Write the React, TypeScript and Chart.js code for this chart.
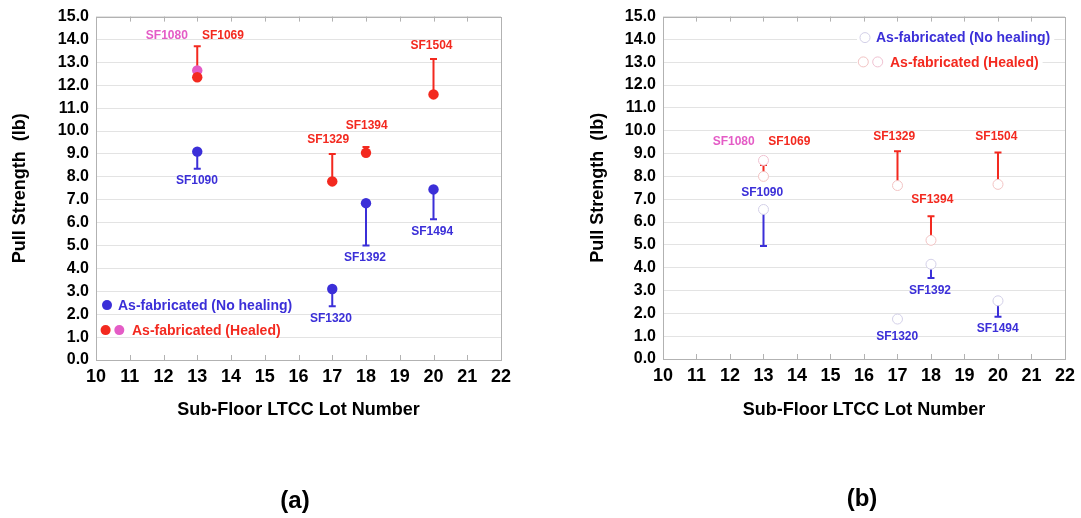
import React, { useEffect, useRef } from "react";
import { Chart, registerables } from "chart.js";

Chart.register(...registerables);

// ---- data ----
const lots = [13, 17, 18, 20];

// panel (a): filled markers
const aNoHealing = [9.1, 3.1, 6.85, 7.45];
const aNoHealingLow = [8.35, 2.35, 5.0, 6.15];
const aHealed = [12.35, 7.8, 9.05, 11.6];
const aHealedHigh = [13.7, 9.0, 9.3, 13.15];
const aSF1080Lot = [13];
const aSF1080 = [12.65];

// panel (b): open markers
const bNoHealing = [6.55, 1.75, 4.15, 2.55];
const bNoHealingLow = [4.95, null, 3.55, 1.85];
const bHealed = [8.0, 7.6, 5.2, 7.65];
const bHealedHigh = [8.5, 9.1, 6.25, 9.05];
const bSF1080Lot = [13];
const bSF1080 = [8.7];

const xTicksMin = 10;
const xTicksMax = 22;
const yTicksMin = 0;
const yTicksMax = 15;

// lot labels: [text, x, y, colour key]
const aLotLabels: [string, number, number, string][] = [
  ["SF1080", 12.1, 14.17, "pink"],
  ["SF1069", 13.76, 14.17, "red"],
  ["SF1504", 19.94, 13.75, "red"],
  ["SF1394", 18.02, 10.25, "red"],
  ["SF1329", 16.88, 9.62, "red"],
  ["SF1090", 12.99, 7.84, "blue"],
  ["SF1494", 19.96, 5.6, "blue"],
  ["SF1392", 17.97, 4.47, "blue"],
  ["SF1320", 16.96, 1.8, "blue"],
];
const bLotLabels: [string, number, number, string][] = [
  ["SF1080", 12.11, 9.53, "pink"],
  ["SF1069", 13.77, 9.53, "red"],
  ["SF1329", 16.9, 9.74, "red"],
  ["SF1504", 19.95, 9.74, "red"],
  ["SF1090", 12.96, 7.28, "blue"],
  ["SF1394", 18.04, 6.96, "red"],
  ["SF1392", 17.97, 2.98, "blue"],
  ["SF1494", 19.99, 1.32, "blue"],
  ["SF1320", 16.99, 0.96, "blue"],
];

const legendNoHealing = "As-fabricated (No healing)";
const legendHealed = "As-fabricated (Healed)";
const xTitle = "Sub-Floor LTCC Lot Number";
const yTitle = "Pull Strength  (lb)";

// ---- styling ----
const FONT = "'Liberation Sans', Arial, Helvetica, sans-serif";
const COLORS: Record<string, string> = {
  blue: "#3b2fd8",
  red: "#f3291f",
  pink: "#e45cc6",
};
const OPEN_BLUE = "#d3d0e8";
const OPEN_RED = "#f2c3c3";
const OPEN_PINK = "#f0c2d2";
const GRID = "#e3e3e3";
const FRAME = "#b2b2b2";

type ErrBar = { x: number; from: number; to: number | null; color: string };

type PanelSpec = {
  points: any[];
  errBars: ErrBar[];
  labels: [string, number, number, string][];
  legend: {
    dx: number;
    dy1: number;
    dy2: number;
    filled: boolean;
    whiteBox: boolean;
  };
  yWidth: number;
  xHeight: number;
  padTop: number;
  padRight: number;
  yTitlePad: number;
};

function toXY(xs: number[], ys: number[]) {
  return xs.map((x, i) => ({ x, y: ys[i] }));
}

function bars(xs: number[], from: number[], to: (number | null)[], color: string): ErrBar[] {
  return xs.map((x, i) => ({ x, from: from[i], to: to[i], color }));
}

function makeDecor(spec: PanelSpec) {
  return {
    id: "panelDecor",
    beforeDatasetsDraw(chart: any) {
      const { ctx, chartArea } = chart;
      const xs = chart.scales.x;
      const ys = chart.scales.y;
      ctx.save();
      // frame
      ctx.strokeStyle = FRAME;
      ctx.lineWidth = 1;
      ctx.strokeRect(
        Math.round(chartArea.left) + 0.5,
        Math.round(chartArea.top) + 0.5,
        Math.round(chartArea.right - chartArea.left),
        Math.round(chartArea.bottom - chartArea.top)
      );
      // inward tick marks on top and bottom edges
      for (let v = xTicksMin + 1; v < xTicksMax; v++) {
        const px = Math.round(xs.getPixelForValue(v)) + 0.5;
        ctx.beginPath();
        ctx.moveTo(px, chartArea.bottom);
        ctx.lineTo(px, chartArea.bottom - 5);
        ctx.moveTo(px, chartArea.top);
        ctx.lineTo(px, chartArea.top + 5);
        ctx.stroke();
      }
      // one-sided error bars
      ctx.lineWidth = 2;
      for (const b of spec.errBars) {
        if (b.to === null || b.to === undefined) continue;
        const px = xs.getPixelForValue(b.x);
        const p0 = ys.getPixelForValue(b.from);
        const p1 = ys.getPixelForValue(b.to);
        ctx.strokeStyle = b.color;
        ctx.beginPath();
        ctx.moveTo(px, p0);
        ctx.lineTo(px, p1);
        ctx.moveTo(px - 3.5, p1);
        ctx.lineTo(px + 3.5, p1);
        ctx.stroke();
      }
      ctx.restore();
    },
    afterDatasetsDraw(chart: any) {
      const { ctx, chartArea } = chart;
      const xs = chart.scales.x;
      const ys = chart.scales.y;
      ctx.save();
      ctx.textAlign = "center";
      ctx.textBaseline = "middle";
      ctx.font = `bold 12px ${FONT}`;
      for (const [t, x, y, c] of spec.labels) {
        ctx.fillStyle = COLORS[c];
        ctx.fillText(t, xs.getPixelForValue(x), ys.getPixelForValue(y));
      }
      // legend
      const L = spec.legend;
      const mx = chartArea.left + L.dx;
      const y1 = chartArea.top + L.dy1;
      const y2 = chartArea.top + L.dy2;
      ctx.font = `bold 14px ${FONT}`;
      ctx.textAlign = "left";
      const drawMarker = (x: number, y: number, fill: string, stroke: string) => {
        ctx.beginPath();
        ctx.arc(x, y, 5, 0, Math.PI * 2);
        ctx.fillStyle = fill;
        ctx.fill();
        if (!L.filled) {
          ctx.lineWidth = 1;
          ctx.strokeStyle = stroke;
          ctx.stroke();
        }
      };
      const rows: [number, number, string, string][] = [
        [y1, mx + 11, legendNoHealing, COLORS.blue],
        [y2, mx + 25, legendHealed, COLORS.red],
      ];
      if (L.whiteBox) {
        for (const [yy, tx, text] of rows) {
          const w = ctx.measureText(text).width;
          ctx.fillStyle = "#ffffff";
          ctx.fillRect(mx - 8, yy - 9, tx - mx + w + 12, 18);
        }
      }
      if (L.filled) {
        drawMarker(mx, y1, COLORS.blue, COLORS.blue);
        drawMarker(mx - 1.4, y2, COLORS.red, COLORS.red);
        drawMarker(mx + 12.3, y2, COLORS.pink, COLORS.pink);
      } else {
        drawMarker(mx, y1, "#ffffff", OPEN_BLUE);
        drawMarker(mx - 1.7, y2, "#ffffff", OPEN_RED);
        drawMarker(mx + 12.7, y2, "#ffffff", OPEN_PINK);
      }
      for (const [yy, tx, text, col] of rows) {
        ctx.fillStyle = col;
        ctx.fillText(text, tx, yy + 1);
      }
      ctx.restore();
    },
  };
}

function buildConfig(spec: PanelSpec): any {
  return {
    type: "scatter",
    data: { datasets: spec.points },
    options: {
      responsive: false,
      animation: false,
      events: [],
      layout: {
        padding: { top: spec.padTop, right: spec.padRight, left: 0, bottom: 0 },
      },
      plugins: {
        legend: { display: false },
        tooltip: { enabled: false },
      },
      scales: {
        x: {
          type: "linear",
          min: xTicksMin,
          max: xTicksMax,
          afterFit: (s: any) => {
            s.height = spec.xHeight;
          },
          ticks: {
            stepSize: 1,
            color: "#000000",
            padding: 6,
            font: { family: FONT, size: 18, weight: "bold" },
          },
          grid: { display: false, drawTicks: false },
          border: { display: false },
          title: {
            display: true,
            text: xTitle,
            color: "#000000",
            font: { family: FONT, size: 18, weight: "bold" },
            padding: { top: 0, bottom: 97 },
          },
        },
        y: {
          type: "linear",
          min: yTicksMin,
          max: yTicksMax,
          afterFit: (s: any) => {
            s.width = spec.yWidth;
          },
          ticks: {
            stepSize: 1,
            color: "#000000",
            padding: 7,
            font: { family: FONT, size: 16, weight: "bold" },
            callback: (v: any) => Number(v).toFixed(1),
          },
          grid: { color: GRID, lineWidth: 1, drawTicks: false },
          border: { display: false },
          title: {
            display: true,
            text: yTitle,
            color: "#000000",
            font: { family: FONT, size: 18, weight: "bold" },
            padding: { top: spec.yTitlePad, bottom: 0 },
          },
        },
      },
    },
    plugins: [makeDecor(spec)],
  };
}

function filledSet(data: any[], color: string) {
  return {
    data,
    pointRadius: 5.2,
    pointBackgroundColor: color,
    pointBorderColor: color,
    pointBorderWidth: 0,
    showLine: false,
  };
}

function openSet(data: any[], stroke: string) {
  return {
    data,
    pointRadius: 5,
    pointBackgroundColor: "#ffffff",
    pointBorderColor: stroke,
    pointBorderWidth: 1,
    showLine: false,
  };
}

const specA: PanelSpec = {
  points: [
    filledSet(toXY(lots, aHealed), COLORS.red),
    filledSet(toXY(aSF1080Lot, aSF1080), COLORS.pink),
    filledSet(toXY(lots, aNoHealing), COLORS.blue),
  ],
  errBars: [
    ...bars(lots, aNoHealing, aNoHealingLow, COLORS.blue),
    ...bars(lots, aHealed, aHealedHigh, COLORS.red),
  ],
  labels: aLotLabels,
  legend: { dx: 11, dy1: 288.5, dy2: 313.5, filled: true, whiteBox: false },
  yWidth: 96,
  xHeight: 158,
  padTop: 13,
  padRight: 39,
  yTitlePad: 9,
};

const specB: PanelSpec = {
  points: [
    openSet(toXY(lots, bHealed), OPEN_RED),
    openSet(toXY(bSF1080Lot, bSF1080), OPEN_PINK),
    openSet(toXY(lots, bNoHealing), OPEN_BLUE),
  ],
  errBars: [
    ...bars(lots, bNoHealing, bNoHealingLow, COLORS.blue),
    ...bars(lots, bHealed, bHealedHigh, COLORS.red),
  ],
  labels: bLotLabels,
  legend: { dx: 202, dy1: 21, dy2: 45.3, filled: false, whiteBox: true },
  yWidth: 122,
  xHeight: 159,
  padTop: 14,
  padRight: 14,
  yTitlePad: 46,
};

function Panel({ spec, left }: { spec: PanelSpec; left: number }) {
  const ref = useRef<HTMLCanvasElement | null>(null);
  useEffect(() => {
    if (!ref.current) return;
    const chart = new Chart(ref.current, buildConfig(spec));
    return () => chart.destroy();
  }, [spec]);
  return (
    <canvas
      ref={ref}
      width={540}
      height={518}
      style={{ position: "absolute", left, top: 0, width: 540, height: 518 }}
    />
  );
}

const captionStyle = (cx: number, cy: number): React.CSSProperties => ({
  position: "absolute",
  left: cx - 50,
  top: cy - 14,
  width: 100,
  height: 28,
  lineHeight: "28px",
  textAlign: "center",
  fontFamily: FONT,
  fontWeight: "bold",
  fontSize: 24,
  color: "#000000",
});

export default function App() {
  return (
    <div
      style={{
        position: "fixed",
        left: 0,
        top: 0,
        width: 1081,
        height: 518,
        background: "#ffffff",
        overflow: "hidden",
      }}
    >
      <Panel spec={specA} left={0} />
      <Panel spec={specB} left={541} />
      <div style={captionStyle(295, 500)}>(a)</div>
      <div style={captionStyle(862, 498)}>(b)</div>
    </div>
  );
}
